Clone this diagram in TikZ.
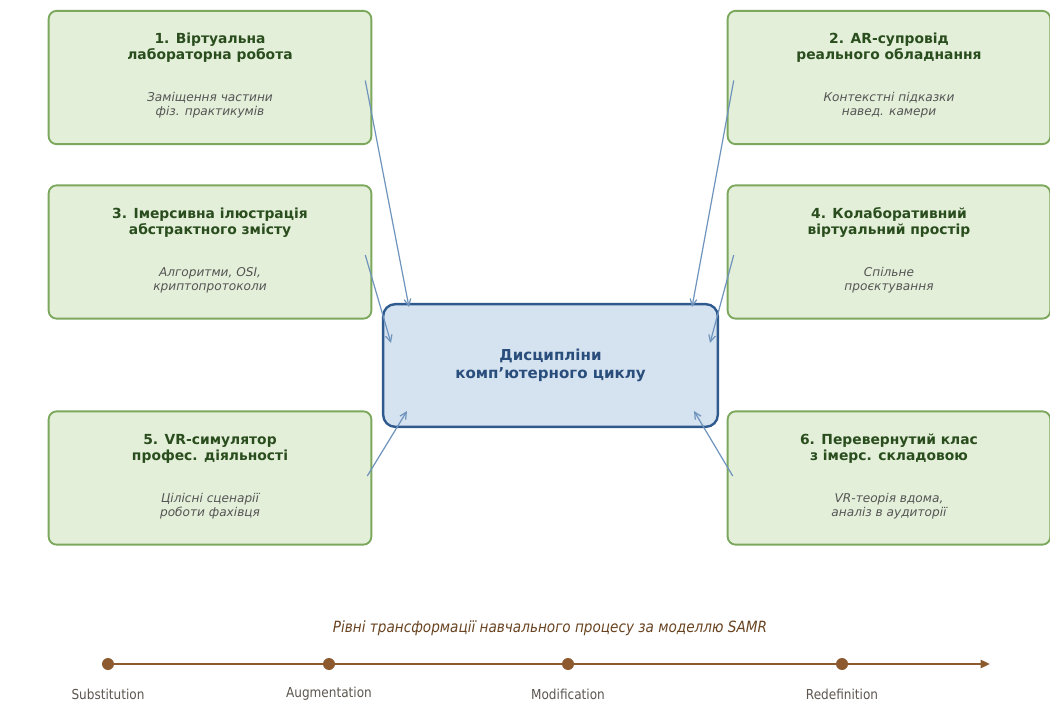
\documentclass[tikz,border=0pt]{standalone}
\usepackage{fontspec}
\setmainfont{DejaVu Sans}
\newfontfamily\condfont[FakeStretch=0.88]{DejaVu Sans}
\usetikzlibrary{arrows.meta,calc}
\definecolor{boxfill}{HTML}{E3EFD9}
\definecolor{boxline}{HTML}{7BA85C}
\definecolor{boxtitle}{HTML}{2A4D1E}
\definecolor{subtext}{HTML}{555555}
\definecolor{hubfill}{HTML}{D5E2F0}
\definecolor{hubline}{HTML}{2F5A8E}
\definecolor{hubtext}{HTML}{2A4E7C}
\definecolor{linkcol}{HTML}{6E93BC}
\definecolor{samrcol}{HTML}{8C5A2E}
\begin{document}
\begin{tikzpicture}[x=0.75pt,y=-0.75pt,
  boxnode/.style={draw=boxline,fill=boxfill,line width=1.4pt,rounded corners=6pt,
    minimum width=242pt,minimum height=100pt},
  hubnode/.style={draw=hubline,fill=hubfill,line width=1.8pt,rounded corners=9pt,
    minimum width=251pt,minimum height=92pt,align=center,text=hubtext,
    font=\bfseries\fontsize{11.3}{13}\selectfont},
  headtxt/.style={align=center,text=boxtitle,font=\bfseries\fontsize{10.4}{12}\selectfont},
  subtxt/.style={align=center,text=subtext,font=\itshape\fontsize{9.1}{10.5}\selectfont},
  link/.style={draw=linkcol,line width=0.9pt,-{Straight Barb[length=5pt,width=5pt]}},
  dot/.style={circle,fill=samrcol,inner sep=0pt,minimum size=9pt},
  lvl/.style={text=subtext!85!samrcol,font=\condfont\fontsize{10.3}{12}\selectfont}]
  \useasboundingbox (0,0) rectangle (1050,702);
  % hub
  \node[hubnode] (hub) at (550.5,365.5) {Дисципліни\\комп’ютерного циклу};
  % left column
  \node[boxnode] (b1) at (210,77.5) {};
  \node[headtxt] at (210,47.5) {1. Віртуальна\\лабораторна робота};
  \node[subtxt] at (210,105.5) {Заміщення частини\\фіз. практикумів};
  \node[boxnode] (b3) at (210,252) {};
  \node[headtxt] at (210,222.5) {3. Імерсивна ілюстрація\\абстрактного змісту};
  \node[subtxt] at (210,280.5) {Алгоритми, OSI,\\криптопротоколи};
  \node[boxnode] (b5) at (210,478) {};
  \node[headtxt] at (210,448.5) {5. VR-симулятор\\профес. діяльності};
  \node[subtxt] at (210,506.5) {Цілісні сценарії\\роботи фахівця};
  % right column
  \node[boxnode] (b2) at (889,77.5) {};
  \node[headtxt] at (889,47.5) {2. AR-супровід\\реального обладнання};
  \node[subtxt] at (889,105.5) {Контекстні підказки\\навед. камери};
  \node[boxnode] (b4) at (889,252) {};
  \node[headtxt] at (889,222.5) {4. Колаборативний\\віртуальний простір};
  \node[subtxt] at (889,280.5) {Спільне\\проєктування};
  \node[boxnode] (b6) at (889,478) {};
  \node[headtxt] at (889,448.5) {6. Перевернутий клас\\з імерс. складовою};
  \node[subtxt] at (889,506.5) {VR-теорія вдома,\\аналіз в аудиторії};
  % links into the hub
  \draw[link] ($(b1.east)+(-7,3)$) -- ($(hub.north west)+(27,4)$);
  \draw[link] ($(b2.west)+(7,3)$) -- ($(hub.north east)+(-27,4)$);
  \draw[link] ($(b3.east)+(-7,3)$) -- ($(hub.north west)+(9,40)$);
  \draw[link] ($(b4.west)+(7,3)$) -- ($(hub.north east)+(-9,40)$);
  \draw[link] ($(b5.east)+(-5,-2)$) -- ($(hub.south west)+(25,-17)$);
  \draw[link] ($(b6.west)+(6,-2)$) -- ($(hub.south east)+(-25,-17)$);
  % SAMR scale
  \node[text=samrcol!75!black,font=\condfont\itshape\fontsize{11.6}{13}\selectfont] (samr) at (550,628)
    {Рівні трансформації навчального процесу за моделлю SAMR};
  \coordinate (tip) at (990,664);
  \node[dot] (s1) at (108,664) {};
  \node[dot] (s2) at (329,664) {};
  \node[dot] (s3) at (568,664) {};
  \node[dot] (s4) at (842,664) {};
  \draw[samrcol,line width=2.2pt,-{Triangle[length=7pt,width=6pt]}] (s1) -- (s2) -- (s3) -- (s4) -- (tip);
  \node[lvl] at (108,694) {Substitution};
  \node[lvl] at (329,694) {Augmentation};
  \node[lvl] at (568,694) {Modification};
  \node[lvl] at (842,694) {Redefinition};
\end{tikzpicture}
\end{document}
